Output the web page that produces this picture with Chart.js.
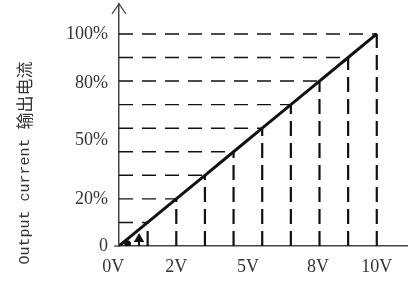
<!DOCTYPE html>
<html>
<head>
<meta charset="utf-8">
<script src="https://cdn.jsdelivr.net/npm/chart.js@4.4.1/dist/chart.umd.min.js"></script>
<style>
  html, body { margin: 0; padding: 0; background: #fff; }
  canvas { display: block; }
</style>
</head>
<body>
<canvas id="c" width="408" height="282"></canvas>
<script>
// points on the transfer line, in grid steps (0..9)
var voltSteps = [0, 1, 2, 3, 4, 5, 6, 7, 8, 9];
var currentSteps = [0, 1, 2, 3, 4, 5, 6, 7, 8, 9];

// tick labels and where they sit (in grid steps)
var xTickPos = [-0.2, 2, 4.5, 6.95, 9];
var xTickLabels = ['0V', '2V', '5V', '8V', '10V'];
var yTickPos = [0, 2, 4.5, 6.9, 9];
var yTickLabels = ['0', '20%', '50%', '80%', '100%'];

// small arrow mark near the origin
var arrowX = [0.7, 0.7];
var arrowY = [0, 0.3];

var yTitle = 'Output current 输出电流';

var INK = '#111';
var AXIS = '#444';

var datasets = [];

// horizontal dashed drop lines
for (let i = 1; i < voltSteps.length; i++) {
    datasets.push({
        data: [{x: 0, y: currentSteps[i]}, {x: voltSteps[i], y: currentSteps[i]}],
        borderColor: INK,
        borderWidth: 1.4,
        borderDash: [14, 9],
        pointRadius: 0,
        showLine: true
    });
}
// vertical dashed drop lines
for (let i = 1; i < voltSteps.length; i++) {
    datasets.push({
        data: [{x: voltSteps[i], y: 0}, {x: voltSteps[i], y: currentSteps[i]}],
        borderColor: INK,
        borderWidth: 2.2,
        borderDash: [15, 7],
        pointRadius: 0,
        showLine: true
    });
}
// the transfer line
datasets.push({
    data: voltSteps.map(function (v, i) { return {x: v, y: currentSteps[i]}; }),
    borderColor: INK,
    borderWidth: 3,
    pointRadius: 0,
    showLine: true,
    lineTension: 0
});
// small arrow
datasets.push({
    data: [{x: arrowX[0], y: arrowY[0]}, {x: arrowX[1], y: arrowY[1]}],
    borderColor: INK,
    borderWidth: 2,
    pointStyle: 'triangle',
    pointRadius: [0, 4],
    pointBackgroundColor: INK,
    pointBorderColor: INK,
    showLine: true
});
// blob at start of the line
datasets.push({
    data: [{x: 0.3, y: 0.1}],
    pointRadius: 3,
    pointBackgroundColor: INK,
    pointBorderColor: INK,
    showLine: false
});

var tickFont = {family: "'Liberation Serif', serif", size: 18};

function setTicks(pos) {
    return function (scale) {
        scale.ticks = pos.map(function (p) { return {value: p}; });
    };
}

var decor = {
    id: 'decor',
    afterDraw: function (chart) {
        var ctx = chart.ctx;
        var xs = chart.scales.x, ys = chart.scales.y;
        var x0 = xs.getPixelForValue(0);
        var y0 = ys.getPixelForValue(0);
        var top = chart.chartArea.top;
        ctx.save();
        ctx.strokeStyle = AXIS;
        ctx.lineWidth = 1.3;
        // arrow on y axis
        ctx.beginPath();
        ctx.moveTo(x0 - 7, top + 10);
        ctx.lineTo(x0, top);
        ctx.lineTo(x0 + 7, top + 10);
        ctx.stroke();
        // x axis extends a bit left of the y axis
        ctx.beginPath();
        ctx.moveTo(x0 - 5, y0);
        ctx.lineTo(x0, y0);
        ctx.stroke();
        // y axis title: latin part and CJK part
        ctx.fillStyle = '#333';
        ctx.textBaseline = 'middle';
        ctx.translate(25, 163);
        ctx.rotate(-Math.PI / 2);
        var parts = yTitle.split(' ');
        var latin = parts[0] + ' ' + parts[1] + ' ';
        var cjk = parts[2];
        var fLatin = "15px 'Liberation Mono', monospace";
        var fCjk = "17px 'Noto Sans CJK SC', sans-serif";
        ctx.font = fLatin;
        var wl = ctx.measureText(latin).width;
        ctx.font = fCjk;
        var wc = ctx.measureText(cjk).width;
        var start = -(wl + wc) / 2;
        ctx.textAlign = 'left';
        ctx.font = fLatin;
        ctx.fillText(latin, start, 0);
        ctx.font = fCjk;
        ctx.fillText(cjk, start + wl, 0);
        ctx.restore();
    }
};

var ctx = document.getElementById('c').getContext('2d');
var chart = new Chart(ctx, {
    type: 'scatter',
    data: {datasets: datasets},
    plugins: [decor],
    options: {
        animation: false,
        responsive: false,
        layout: {autoPadding: false, padding: {top: 4, right: 0, left: 0, bottom: 0}},
        plugins: {legend: {display: false}, tooltip: {enabled: false}},
        elements: {line: {tension: 0}},
        scales: {
            x: {
                type: 'linear',
                min: 0,
                max: 10.09,
                grid: {display: false, drawTicks: false},
                border: {display: true, color: AXIS, width: 1.5},
                afterBuildTicks: setTicks(xTickPos),
                afterFit: function (s) {
                    s.height = 36;
                    s.paddingLeft = 0; s.paddingRight = 0;
                },
                ticks: {
                    padding: 10,
                    color: '#333',
                    font: tickFont,
                    autoSkip: false,
                    maxRotation: 0,
                    callback: function (v, i) { return xTickLabels[i]; }
                }
            },
            y: {
                type: 'linear',
                min: 0,
                max: 10.27,
                grid: {display: false, drawTicks: false},
                border: {display: true, color: AXIS, width: 1.5},
                afterBuildTicks: setTicks(yTickPos),
                afterFit: function (s) {
                    s.width = 119;
                    s.paddingTop = 0; s.paddingBottom = 0;
                },
                ticks: {
                    padding: 11,
                    color: '#333',
                    font: tickFont,
                    autoSkip: false,
                    callback: function (v, i) { return yTickLabels[i]; }
                }
            }
        }
    }
});
</script>
</body>
</html>
